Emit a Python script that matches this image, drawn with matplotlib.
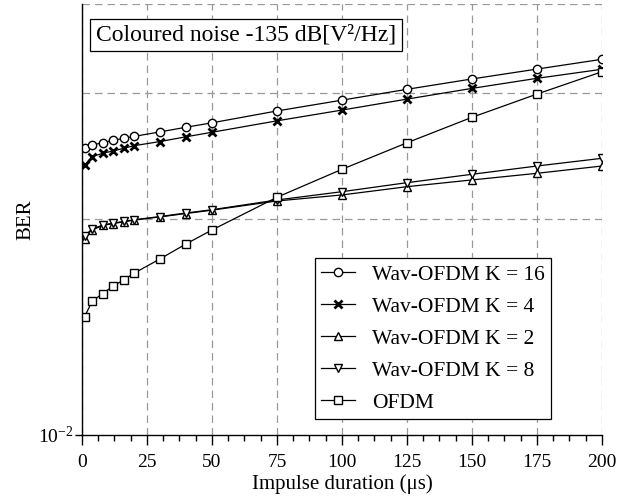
import numpy as np
import matplotlib
matplotlib.use("Agg")
import matplotlib.pyplot as plt
from matplotlib.ticker import FixedLocator, NullFormatter

plt.rcParams['font.family'] = ['Liberation Serif', 'DejaVu Serif']
plt.rcParams['mathtext.fontset'] = 'stix'

# Impulse duration (us)
duration = [1, 4, 8, 12, 16, 20, 30, 40, 50, 75, 100, 125, 150, 175, 200]

# BER
ber_k16 = [0.214, 0.222, 0.227, 0.233, 0.238, 0.243, 0.255, 0.268, 0.281,
           0.319, 0.358, 0.402, 0.449, 0.499, 0.554]
ber_k4 = [0.179, 0.196, 0.203, 0.208, 0.214, 0.220, 0.230, 0.242, 0.254,
          0.287, 0.322, 0.362, 0.406, 0.452, 0.498]
ber_k2 = [0.0815, 0.0895, 0.0938, 0.0958, 0.0975, 0.0993, 0.1028, 0.1066, 0.1105,
          0.1219, 0.1300, 0.1420, 0.1526, 0.1638, 0.1771]
ber_k8 = [0.0840, 0.0905, 0.0942, 0.0962, 0.0979, 0.0997, 0.1032, 0.1072, 0.1110,
          0.1232, 0.1346, 0.1482, 0.1621, 0.1771, 0.1923]
ber_ofdm = [0.0354, 0.0419, 0.0453, 0.0491, 0.0524, 0.0563, 0.0656, 0.0770, 0.0894,
            0.1268, 0.171, 0.227, 0.298, 0.382, 0.485]

series = [
    (ber_k16, 'o', 'Wav-OFDM K = 16', 6.0, 1.0),
    (ber_k4, 'x', 'Wav-OFDM K = 4', 6.0, 2.0),
    (ber_k2, '^', 'Wav-OFDM K = 2', 5.5, 1.0),
    (ber_k8, 'v', 'Wav-OFDM K = 8', 5.5, 1.0),
    (ber_ofdm, 's', 'OFDM', 5.5, 1.0),
]

fig = plt.figure(figsize=(6.38, 5.04), dpi=100)
ax = fig.add_axes([0.1285, 0.137, 0.815, 0.855])

for vals, mk, lab, ms, mew in series:
    ax.plot(duration, vals, '-', color='black', linewidth=0.9, marker=mk,
            markersize=ms, markeredgewidth=mew, markerfacecolor='white',
            markeredgecolor='black', label=lab)

ax.set_yscale('log')
ax.set_xlim(0, 200)
ax.set_ylim(1e-2, 1)

ax.xaxis.set_major_locator(FixedLocator(np.arange(0, 201, 25)))
ax.xaxis.set_minor_locator(FixedLocator(np.arange(0, 201, 6.25)))
ax.yaxis.set_major_locator(FixedLocator([1e-2]))
ax.yaxis.set_major_formatter(plt.FuncFormatter(lambda v, p: r'$\mathregular{10^{-2}}$'))
ax.yaxis.set_minor_locator(FixedLocator([0.1, 0.386, 1.0]))
ax.yaxis.set_minor_formatter(NullFormatter())

ax.tick_params(axis='x', which='major', direction='out', length=7, width=1,
               labelsize=14, pad=7)
ax.tick_params(axis='x', which='minor', direction='out', length=4, width=1)
ax.tick_params(axis='y', which='major', direction='out', length=5, width=1,
               labelsize=14, pad=1)
ax.tick_params(axis='y', which='minor', length=0)

ax.grid(True, axis='x', which='major', linestyle=(0, (6, 4)), color='#999999', linewidth=0.9)
ax.grid(True, axis='y', which='minor', linestyle=(0, (6, 4)), color='#999999', linewidth=0.9)
ax.set_axisbelow(True)

ax.spines['top'].set_visible(False)
ax.spines['right'].set_visible(False)
ax.spines['left'].set_linewidth(1.0)
ax.spines['bottom'].set_linewidth(1.0)

ax.set_xlabel('Impulse duration (\u03bcs)', fontsize=15, labelpad=2)
ax.set_ylabel('BER', fontsize=15, labelpad=2)

ax.text(0.026, 0.928, 'Coloured noise -135 dB[V\u00b2/Hz]', transform=ax.transAxes,
        fontsize=17, ha='left', va='center',
        bbox=dict(boxstyle='square,pad=0.25', facecolor='white', edgecolor='black', linewidth=0.9))

leg = ax.legend(loc='lower left', bbox_to_anchor=(0.448, 0.037), borderaxespad=0,
                fontsize=15.5, handlelength=1.55, handletextpad=0.8, labelspacing=0.55,
                borderpad=0.3, fancybox=False, framealpha=1, edgecolor='black')
leg.get_frame().set_linewidth(0.9)

fig.savefig('out.png', dpi=100)
